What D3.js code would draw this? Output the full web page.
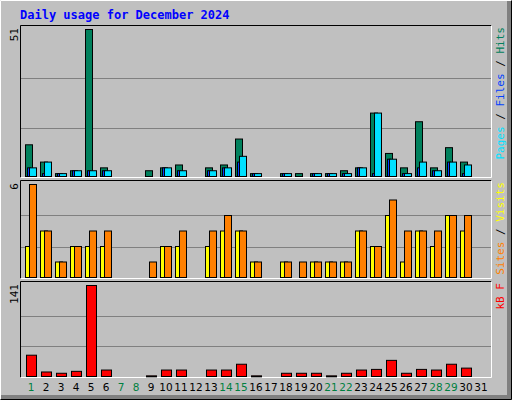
<!DOCTYPE html><html><head><script src="https://cdn.jsdelivr.net/npm/d3@7"></script>
<style>body{margin:0;background:#fff}</style></head><body><svg width="512" height="400"></svg>
<script>
const days=d3.range(1,32);
const hits=[11,5,1,2,51,3,0,0,2,3,4,0,3,4,13,1,0,1,1,1,1,2,3,22,8,3,19,3,10,5,0];
const files=[3,5,1,2,2,2,0,0,0,3,2,0,2,3,7,1,0,1,0,1,1,1,3,22,6,1,5,2,5,4,0];
const pages=[3,1,1,2,2,2,0,0,0,3,2,0,2,3,5,1,0,1,0,1,1,1,3,1,6,1,3,2,5,1,0];
const visits=[6,3,1,2,3,3,0,0,1,2,3,0,3,4,3,1,0,1,1,1,1,1,3,2,5,3,3,3,4,4,0];
const sites=[2,3,1,2,2,2,0,0,0,2,2,0,2,3,3,1,0,1,0,1,1,1,3,2,4,1,3,2,4,3,0];
const kb=[33,7,5,8,141,10,0,0,1,10,10,0,10,10,19,1,0,5,5,5,1,5,10,11,25,5,11,10,19,13,0];
const weekend=[1,7,8,14,15,21,22,28,29];
const svg=d3.select("svg");
svg.append("rect").attr("width",512).attr("height",400).attr("fill","#c0c0c0");
svg.append("path").attr("d","M0.5,399.5V0.5H511.5").attr("fill","none").attr("stroke","#fff");
svg.append("path").attr("d","M0.5,399.5H511.5V0.5").attr("fill","none").attr("stroke","#000");
svg.append("rect").attr("x",507).attr("y",1).attr("width",4).attr("height",398).attr("fill","#808080");
svg.append("rect").attr("x",1).attr("y",395).attr("width",510).attr("height",4).attr("fill","#808080");
svg.append("text").attr("x",20).attr("y",19).text("Daily usage for December 2024")
 .attr("font-family","DejaVu Sans Mono").attr("font-weight","bold").attr("font-size",12).attr("fill","#0000ff");
const x=d3.scaleLinear().domain([1,31]).range([25,475]);
function panel(y0,y1,max,series,parts){
  svg.append("path").attr("d",`M20.5,${y1+0.5}V${y0+0.5}H491.5`).attr("fill","none").attr("stroke","#000");
  svg.append("path").attr("d",`M20.5,${y1+0.5}H491.5V${y0+0.5}`).attr("fill","none").attr("stroke","#fff");
  const y=d3.scaleLinear().domain([0,max]).range([y1-1,y0+4]);
  [1,2].forEach(k=>{const gy=Math.round(y1-(y1-y0-4)*k/3)+0.5;
    svg.append("line").attr("x1",21).attr("x2",491).attr("y1",gy).attr("y2",gy).attr("stroke","#808080");});
  series.forEach(s=>{
    svg.append("g").selectAll("rect").data(s.v.map((v,i)=>[i+1,v]).filter(d=>d[1]>0)).join("rect")
     .attr("x",d=>x(d[0])+s.o+0.5).attr("width",s.w).attr("y",d=>y(d[1])+0.5)
     .attr("height",d=>Math.max(1,y(0)-y(d[1]))).attr("fill",s.c).attr("stroke","#000");
  });
  svg.append("text").attr("transform",`translate(18,${y0+3}) rotate(-90)`).attr("text-anchor","end")
   .attr("font-family","DejaVu Sans Mono").attr("font-size",11).text(max);
  const t=svg.append("text").attr("transform",`translate(504,${y0+2}) rotate(-90)`)
   .attr("font-family","DejaVu Sans Mono").attr("font-size",11).attr("text-anchor","end");
  parts.forEach(p=>t.append("tspan").attr("fill",p[1]).text(p[0]));
}
panel(25,177,51,[{v:hits,c:"#00805c",o:0,w:7},{v:pages,c:"#0040ff",o:2,w:3},{v:files,c:"#00e0ff",o:4,w:7}],
 [["Pages","#00e0ff"],[" / ","#000"],["Files","#0040ff"],[" / ","#000"],["Hits","#00805c"]]);
panel(180,278,6,[{v:sites,c:"#ffff00",o:0,w:7},{v:visits,c:"#ff8000",o:4,w:7}],
 [["Sites","#ff8000"],[" / ","#000"],["Visits","#ffff00"]]);
panel(281,377,141,[{v:kb,c:"#ff0000",o:1,w:10}],[["kB F","#ff0000"]]);
svg.append("g").selectAll("text").data(days).join("text").attr("x",d=>x(d)+6).attr("y",391)
 .attr("text-anchor","middle").attr("font-family","DejaVu Sans").attr("font-size",10.5)
 .attr("fill",d=>weekend.includes(d)?"#008040":"#000").text(d=>d);
</script></body></html>
